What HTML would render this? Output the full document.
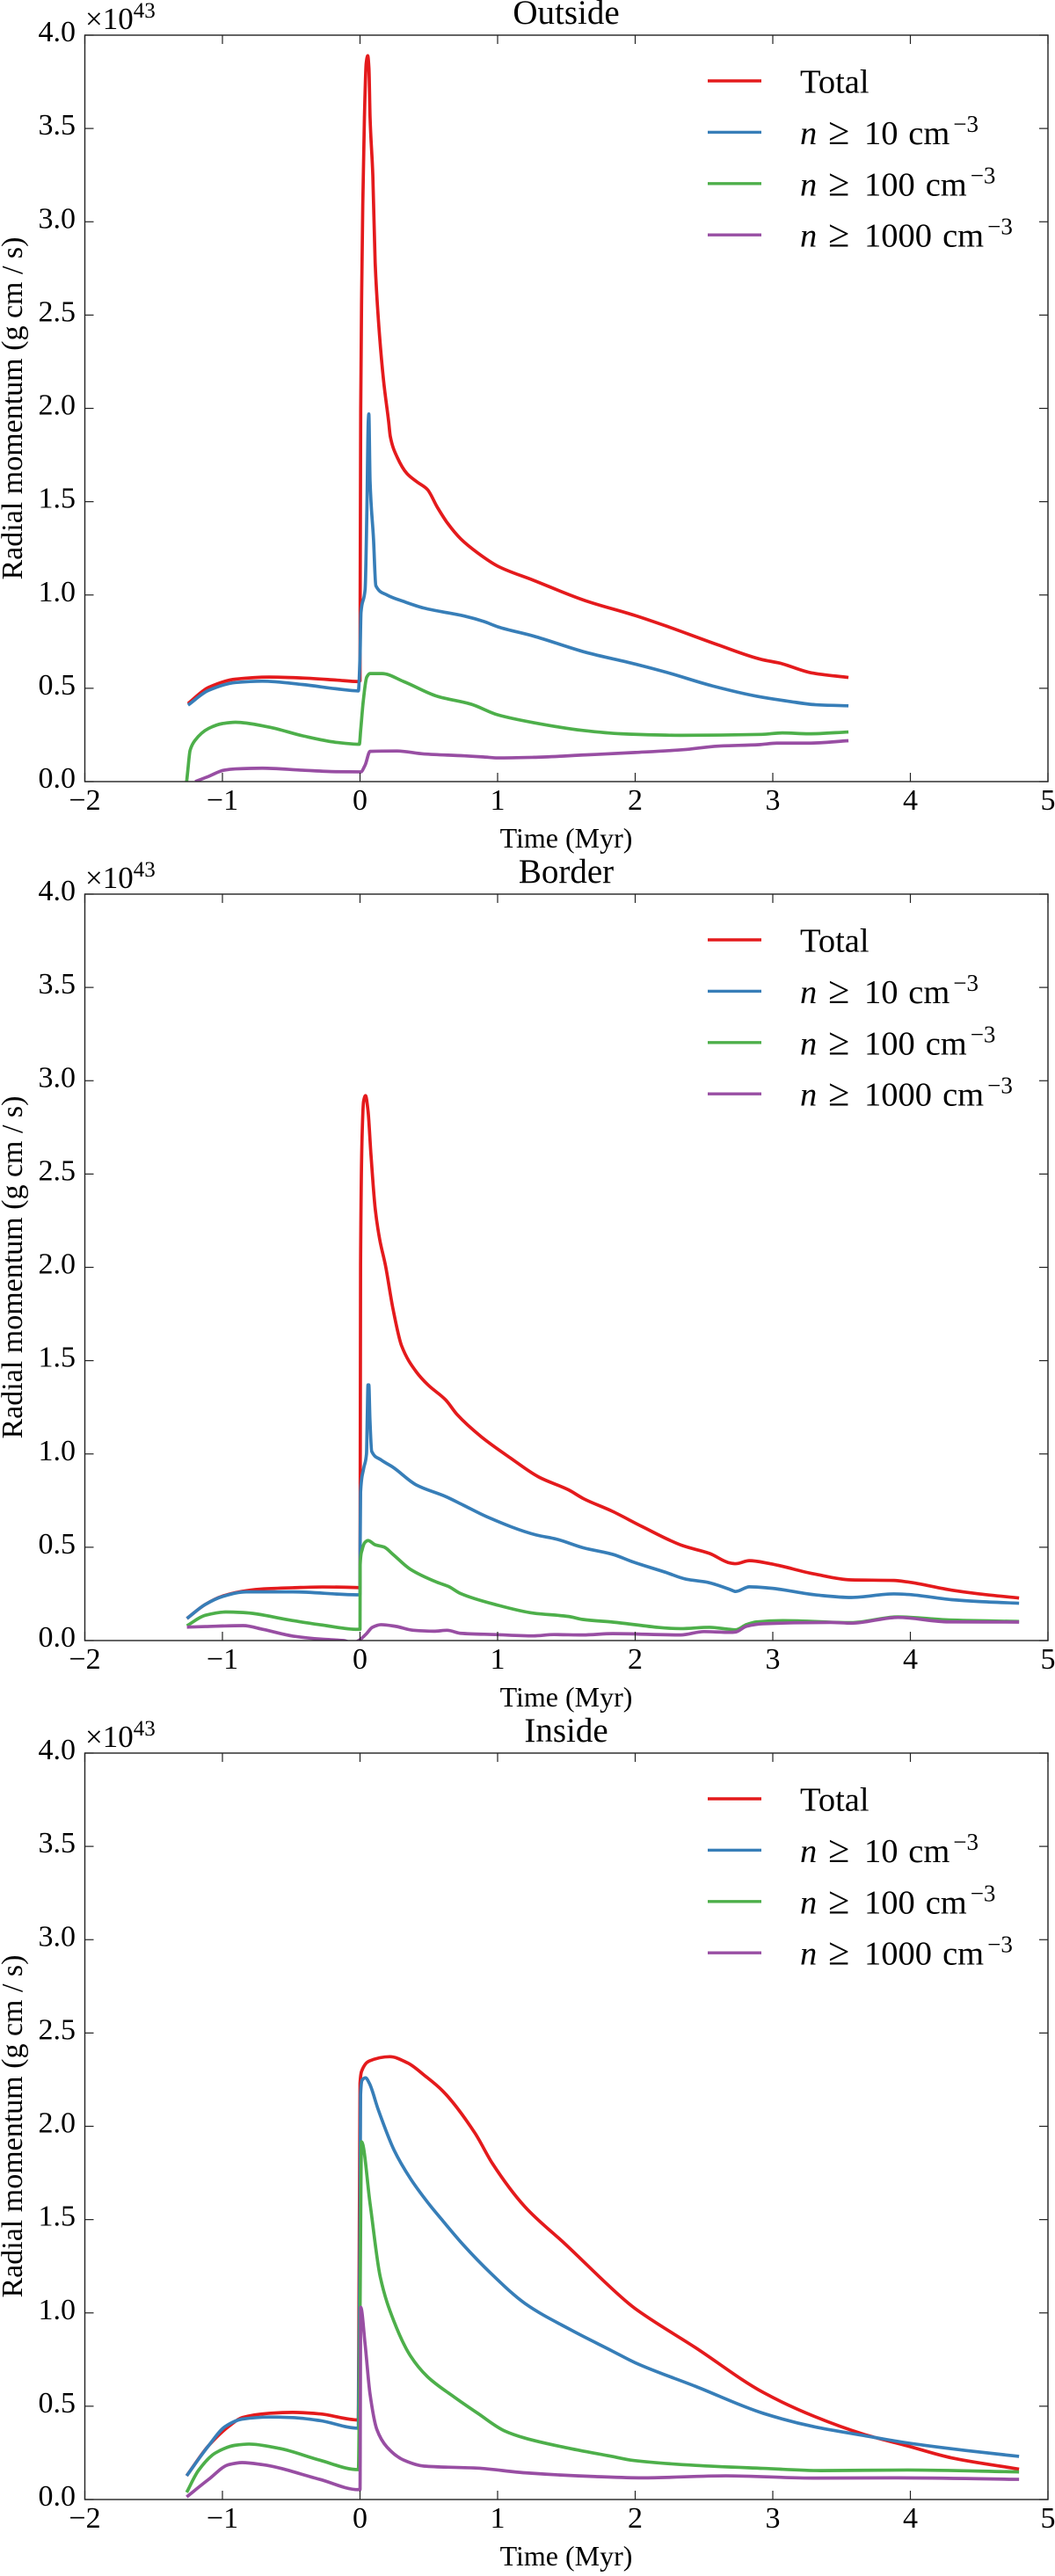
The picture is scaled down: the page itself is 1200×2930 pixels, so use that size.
<!DOCTYPE html>
<html lang="en">
<head>
<meta charset="utf-8">
<title>Radial momentum vs time</title>
<style>
html,body{margin:0;padding:0;background:#fff;}
svg{display:block;}
text{font-family:"Liberation Serif",serif;fill:#000;}
</style>
</head>
<body>
<svg id="figure" xmlns="http://www.w3.org/2000/svg" width="1200" height="2930" viewBox="0 0 1200 2930"></svg>
<script>
// ---- Axis tick labels ----
const xTickValues = [-2, -1, 0, 1, 2, 3, 4, 5];
const yTickValues = [0, 0.5, 1, 1.5, 2, 2.5, 3, 3.5, 4];
const panelTitles = ["Outside", "Border", "Inside"];
const legendThresholds = ["10", "100", "1000"];

// ---- Outside panel (values in 10^43 g cm / s) ----
const outsideTotalT = [-1.25,-1.1,-0.905,-0.66,-0.415,-0.17,-0.012,0,0.001,0.005,0.012,0.02,0.032,0.045,0.056,0.065,0.073,0.093,0.11,0.134,0.171,0.208,0.22,0.269,0.342,0.416,0.489,0.562,0.636,0.733,0.856,1,1.26,1.64,2,2.22,2.6,2.92,3.05,3.28,3.55];
const outsideTotalV = [0.418,0.505,0.549,0.56,0.555,0.544,0.536,0.54,0.98,1.99,2.62,3.09,3.56,3.85,3.89,3.82,3.56,3.25,2.78,2.47,2.15,1.93,1.85,1.74,1.65,1.605,1.566,1.47,1.385,1.30,1.225,1.155,1.079,0.969,0.89,0.835,0.733,0.654,0.635,0.583,0.558];
const outsideDense10T = [-1.25,-1.1,-0.905,-0.71,-0.415,-0.17,-0.012,0,0.007,0.037,0.05,0.06,0.064,0.073,0.098,0.115,0.196,0.318,0.465,0.758,0.9,1,1.26,1.64,2,2.24,2.56,2.88,3.11,3.31,3.55];
const outsideDense10V = [0.41,0.489,0.531,0.538,0.52,0.497,0.486,0.67,0.906,1.03,1.456,1.93,1.97,1.61,1.30,1.05,1.0,0.965,0.93,0.887,0.858,0.83,0.78,0.693,0.63,0.583,0.513,0.458,0.431,0.412,0.406];
const outsideDense100T = [-1.26,-1.252,-1.235,-1.198,-1.1,-1.0,-0.905,-0.66,-0.415,-0.17,-0.005,0.005,0.024,0.049,0.073,0.159,0.318,0.562,0.807,1,1.26,1.62,1.9,2.33,2.92,3.07,3.26,3.55];
const outsideDense100V = [0,0.057,0.167,0.222,0.285,0.311,0.318,0.292,0.245,0.21,0.2,0.277,0.434,0.56,0.579,0.579,0.536,0.457,0.415,0.358,0.316,0.274,0.256,0.248,0.253,0.261,0.256,0.266];
const outsideDense1000T = [-1.198,-1.1,-0.99,-0.905,-0.71,-0.415,-0.17,0.005,0.037,0.073,0.269,0.465,0.758,0.9,1,1.26,1.64,2,2.35,2.6,2.9,3.03,3.26,3.55];
const outsideDense1000V = [0,0.028,0.061,0.068,0.072,0.061,0.053,0.052,0.088,0.162,0.164,0.148,0.138,0.132,0.127,0.13,0.143,0.156,0.171,0.19,0.198,0.206,0.206,0.219];

// ---- Border panel ----
const borderTotalT = [-1.258,-1.126,-1.0,-0.827,-0.7,-0.488,-0.273,-0.018,0,0.004,0.015,0.026,0.04,0.058,0.079,0.111,0.143,0.185,0.239,0.302,0.409,0.494,0.622,0.707,0.878,1.09,1.30,1.517,1.623,1.836,2.05,2.347,2.54,2.688,2.73,2.83,2.98,3.3,3.57,3.88,3.98,4.3,4.5,4.79];
const borderTotalV = [0.118,0.193,0.238,0.267,0.277,0.283,0.287,0.284,0.283,2.01,2.70,2.89,2.92,2.84,2.61,2.31,2.15,2.01,1.78,1.58,1.44,1.37,1.29,1.21,1.094,0.98,0.876,0.807,0.761,0.692,0.611,0.508,0.467,0.416,0.412,0.428,0.412,0.357,0.325,0.322,0.314,0.27,0.25,0.228];
const borderDense10T = [-1.258,-1.126,-1.0,-0.827,-0.488,-0.018,0,0.001,0.004,0.026,0.047,0.053,0.058,0.064,0.072,0.085,0.153,0.239,0.409,0.622,0.75,0.92,1.28,1.43,1.623,1.836,1.985,2.22,2.37,2.52,2.688,2.73,2.83,2.98,3.32,3.57,3.88,3.98,4.3,4.5,4.79];
const borderDense10V = [0.118,0.193,0.236,0.261,0.261,0.245,0.248,0.52,0.795,0.92,1.0,1.21,1.37,1.37,1.186,1.014,0.968,0.929,0.834,0.772,0.726,0.664,0.566,0.543,0.497,0.462,0.421,0.366,0.329,0.313,0.274,0.263,0.288,0.281,0.244,0.231,0.25,0.247,0.219,0.209,0.2];
const borderDense100T = [-1.258,-1.126,-0.976,-0.849,-0.488,-0.273,-0.018,0,0.001,0.015,0.036,0.058,0.111,0.175,0.239,0.366,0.558,0.643,0.728,0.984,1.26,1.517,1.62,1.836,2.33,2.54,2.688,2.73,2.81,2.88,3.08,3.57,3.91,4.28,4.79];
const borderDense100V = [0.079,0.135,0.153,0.15,0.107,0.083,0.06,0.06,0.405,0.485,0.526,0.536,0.513,0.501,0.462,0.382,0.313,0.29,0.253,0.193,0.147,0.129,0.113,0.099,0.064,0.071,0.06,0.058,0.086,0.1,0.107,0.096,0.127,0.11,0.102];
const borderDense1000T = [-1.258,-1.126,-0.849,-0.7,-0.488,-0.273,-0.12,-0.05,0,0.047,0.09,0.153,0.26,0.388,0.537,0.633,0.73,0.984,1.26,1.41,1.62,1.836,2.33,2.5,2.69,2.73,2.81,2.93,3.42,3.57,3.91,4.28,4.79];
const borderDense1000V = [0.072,0.075,0.08,0.059,0.024,0.007,0,-0.012,0.005,0.037,0.071,0.085,0.076,0.055,0.05,0.055,0.039,0.032,0.025,0.032,0.03,0.037,0.03,0.048,0.044,0.046,0.077,0.09,0.097,0.093,0.124,0.10,0.099];

// ---- Inside panel ----
const insideTotalT = [-1.26,-1.1,-0.954,-0.856,-0.66,-0.489,-0.293,-0.012,0,0.011,0.068,0.217,0.345,0.473,0.6,0.835,0.963,1.197,1.49,1.95,2,2.44,2.93,3.3,3.66,3.98,4.3,4.79];
const insideTotalV = [0.127,0.289,0.392,0.439,0.462,0.467,0.459,0.426,2.23,2.294,2.35,2.373,2.34,2.27,2.19,1.964,1.80,1.57,1.37,1.052,1.023,0.813,0.574,0.446,0.35,0.287,0.223,0.163];
const insideDense10T = [-1.26,-1.1,-0.978,-0.856,-0.66,-0.489,-0.293,-0.012,0,0.004,0.015,0.04,0.068,0.132,0.249,0.366,0.494,0.6,0.75,0.954,1.2,1.535,1.83,2,2.44,2.93,3.3,3.66,3.98,4.4,4.79];
const insideDense10V = [0.127,0.289,0.392,0.431,0.442,0.439,0.423,0.382,1.5,2.17,2.247,2.26,2.23,2.09,1.87,1.72,1.59,1.495,1.365,1.21,1.05,0.908,0.797,0.733,0.606,0.462,0.39,0.343,0.303,0.263,0.231];
const insideDense100T = [-1.26,-1.174,-1.05,-0.905,-0.807,-0.587,-0.293,-0.012,0,0.011,0.073,0.147,0.245,0.367,0.489,0.685,0.856,1.05,1.2,1.49,1.83,1.98,2.44,2.93,3.35,3.98,4.79];
const insideDense100V = [0.038,0.156,0.25,0.291,0.297,0.274,0.211,0.16,1.0,1.917,1.586,1.193,0.958,0.769,0.659,0.549,0.462,0.368,0.329,0.279,0.231,0.21,0.183,0.167,0.155,0.158,0.148];
const insideDense1000T = [-1.26,-1.1,-0.954,-0.856,-0.71,-0.293,-0.012,0,0.005,0.037,0.073,0.122,0.196,0.318,0.465,0.856,1.2,1.71,2.05,2.66,3.3,3.91,4.79];
const insideDense1000V = [0.014,0.108,0.187,0.198,0.187,0.108,0.053,0.053,1.03,0.832,0.564,0.376,0.281,0.211,0.179,0.168,0.143,0.123,0.116,0.127,0.115,0.116,0.108];

const seriesColors = ["#e41a1c", "#377eb8", "#4daf4a", "#984ea3"];
const seriesNames = ["total", "n-10", "n-100", "n-1000"];
const panelSeries = [
  [[outsideTotalT, outsideTotalV], [outsideDense10T, outsideDense10V], [outsideDense100T, outsideDense100V], [outsideDense1000T, outsideDense1000V]],
  [[borderTotalT, borderTotalV], [borderDense10T, borderDense10V], [borderDense100T, borderDense100V], [borderDense1000T, borderDense1000V]],
  [[insideTotalT, insideTotalV], [insideDense10T, insideDense10V], [insideDense100T, insideDense100V], [insideDense1000T, insideDense1000V]]
];

// ---- Layout ----
const panelTops = [40, 1017, 1994];
const plotLeft = 96.5, plotRight = 1192, plotHeight = 849;
const xMin = -2, xMax = 5, yMin = 0, yMax = 4;

const NS = "http://www.w3.org/2000/svg";
const fig = document.getElementById("figure");

function el(tag, attrs, parent) {
  const e = document.createElementNS(NS, tag);
  for (const k in attrs) e.setAttribute(k, attrs[k]);
  parent.appendChild(e);
  return e;
}
function fmtTick(v) {
  return v < 0 ? "\u2212" + Math.abs(v) : String(v);
}
function xScale(t) {
  return plotLeft + (t - xMin) / (xMax - xMin) * (plotRight - plotLeft);
}
function yScale(v, top) {
  return top + plotHeight - (v - yMin) / (yMax - yMin) * plotHeight;
}
// Monotone cubic path through the scaled data points (no overshoot at the spikes).
function smoothPath(xs, ys) {
  const n = xs.length;
  const d = [], m = new Array(n).fill(0);
  for (let i = 0; i < n - 1; i++) d.push((ys[i + 1] - ys[i]) / (xs[i + 1] - xs[i]));
  m[0] = d[0];
  m[n - 1] = d[n - 2];
  for (let i = 1; i < n - 1; i++) {
    if (d[i - 1] * d[i] <= 0) {
      m[i] = 0;
    } else {
      const h0 = xs[i] - xs[i - 1], h1 = xs[i + 1] - xs[i];
      const w1 = 2 * h1 + h0, w2 = h1 + 2 * h0;
      m[i] = (w1 + w2) / (w1 / d[i - 1] + w2 / d[i]);
    }
  }
  let path = "M" + xs[0].toFixed(2) + " " + ys[0].toFixed(2);
  for (let i = 0; i < n - 1; i++) {
    const h = (xs[i + 1] - xs[i]) / 3;
    path += "C" + (xs[i] + h).toFixed(2) + " " + (ys[i] + m[i] * h).toFixed(2) + " " +
      (xs[i + 1] - h).toFixed(2) + " " + (ys[i + 1] - m[i + 1] * h).toFixed(2) + " " +
      xs[i + 1].toFixed(2) + " " + ys[i + 1].toFixed(2);
  }
  return path;
}

panelTitles.forEach(function (title, p) {
  const top = panelTops[p];
  const bottom = top + plotHeight;
  const slug = title.toLowerCase();

  const g = el("g", {}, fig);
  
  

  const clip = el("clipPath", { id: "clip-" + p }, g);
  el("rect", { x: plotLeft, y: top, width: plotRight - plotLeft, height: plotHeight }, clip);

  // series
  panelSeries[p].forEach(function (s, i) {
    const xs = s[0].map(function (t) { return xScale(t); });
    const ys = s[1].map(function (v) { return yScale(v, top); });
    const line = el("path", {
      d: smoothPath(xs, ys), fill: "none", stroke: seriesColors[i], "stroke-width": 3.7,
      "stroke-linejoin": "round", "clip-path": "url(#clip-" + p + ")"
    }, g);
    
    
  });

  // frame
  const frame = el("rect", {
    x: plotLeft, y: top, width: plotRight - plotLeft, height: plotHeight,
    fill: "none", stroke: "#222", "stroke-width": 1.4
  }, g);
  
  

  // x ticks
  xTickValues.forEach(function (t) {
    const x = xScale(t);
    const tb = el("line", { x1: x, x2: x, y1: bottom, y2: bottom - 10, stroke: "#222", "stroke-width": 1.2 }, g);
    
    
    const tt = el("line", { x1: x, x2: x, y1: top, y2: top + 10, stroke: "#222", "stroke-width": 1.2 }, g);
    
    
    const lab = el("text", { x: x, y: bottom + 32, "text-anchor": "middle", "font-size": 34 }, g);
    lab.textContent = fmtTick(t);
    
    
  });

  // y ticks
  yTickValues.forEach(function (v) {
    const y = yScale(v, top);
    const tl = el("line", { x1: plotLeft, x2: plotLeft + 10, y1: y, y2: y, stroke: "#222", "stroke-width": 1.2 }, g);
    
    
    const tr = el("line", { x1: plotRight, x2: plotRight - 10, y1: y, y2: y, stroke: "#222", "stroke-width": 1.2 }, g);
    
    
    const lab = el("text", { x: 86, y: y + 7, "text-anchor": "end", "font-size": 34 }, g);
    lab.textContent = v.toFixed(1);
    
    
  });

  // offset text
  const off = el("text", { x: 97, y: top - 7, "font-size": 35 }, g);
  
  
  el("tspan", {}, off).textContent = "\u00d710";
  const offSup = el("tspan", { dy: -13, "font-size": 25 }, off);
  offSup.textContent = "43";

  // title
  const ttl = el("text", { x: 644, y: top - 13, "text-anchor": "middle", "font-size": 39 }, g);
  ttl.textContent = title;
  
  

  // axis labels
  const xl = el("text", { x: 644, y: bottom + 75, "text-anchor": "middle", "font-size": 32 }, g);
  xl.textContent = "Time (Myr)";
  
  
  const yMid = top + plotHeight / 2;
  const yl = el("text", { x: 25, y: yMid, "text-anchor": "middle", "font-size": 34, transform: "rotate(-90 25 " + yMid + ")" }, g);
  yl.textContent = "Radial momentum (g cm / s)";
  
  

  // legend
  const lg = el("g", {}, g);
  
  
  seriesColors.forEach(function (c, i) {
    const ly = top + 52 + i * 58.4;
    const sw = el("line", { x1: 805, x2: 866, y1: ly, y2: ly, stroke: c, "stroke-width": 3.4 }, lg);
    
    
    const tx = el("text", { x: 910, y: ly + 13.5, "font-size": 38.5 }, lg);
    
    
    if (i === 0) {
      tx.textContent = "Total";
    } else {
      const num = legendThresholds[i - 1];
      const nx = 983;
      const cmx = nx + num.length * 19.4 + 11.5;
      el("tspan", { x: 910, "font-style": "italic" }, tx).textContent = "n";
      el("tspan", { x: 942, "font-size": 44 }, tx).textContent = "\u2265";
      el("tspan", { x: nx }, tx).textContent = num;
      el("tspan", { x: cmx }, tx).textContent = "cm";
      el("tspan", { x: cmx + 51, dy: -14, "font-size": 27 }, tx).textContent = "\u22123";
    }
  });
});
</script>
</body>
</html>
